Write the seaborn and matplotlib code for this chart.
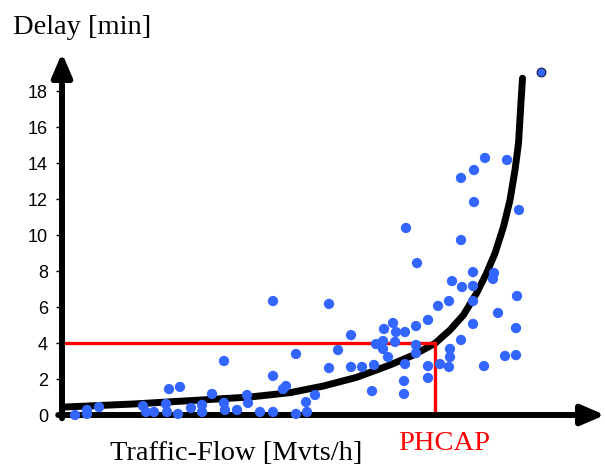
import matplotlib
matplotlib.use("Agg")
import matplotlib.pyplot as plt
import seaborn as sns
import pandas as pd

# ---- data ----
flow = [2.6, 5.0, 5.0, 7.4, 16.2, 16.8, 18.4, 20.8, 21.0, 21.4, 23.2, 23.6, 25.8, 28.0, 28.0,
        30.0, 32.4, 32.4, 32.6, 35.0, 37.0, 37.2, 39.6, 42.2, 42.2, 42.2, 44.2, 44.8, 46.8, 46.8,
        48.8, 49.0, 50.6, 53.4, 53.4, 55.2, 57.8, 57.8, 60.0, 62.0, 62.4, 62.8, 64.2, 64.2, 64.4,
        65.2, 66.2, 66.6, 66.8, 68.4, 68.4, 68.6, 68.6, 68.8, 70.8, 70.8, 70.8, 71.0, 73.2, 73.2,
        73.2, 75.2, 75.6, 77.4, 77.4, 77.6, 77.6, 78.0, 79.8, 79.8, 79.8, 80.0, 82.2, 82.2, 82.2,
        82.2, 82.4, 82.4, 84.4, 84.6, 86.2, 86.4, 87.2, 88.6, 89.0, 90.8, 90.8, 91.0, 91.4]
delay = [0.0, 0.28, 0.06, 0.44, 0.5, 0.17, 0.17, 0.61, 0.17, 1.44, 0.06, 1.56, 0.39, 0.56, 0.17,
         1.17, 3.0, 0.67, 0.28, 0.28, 1.11, 0.67, 0.17, 6.33, 2.17, 0.17, 1.44, 1.61, 3.39, 0.06,
         0.72, 0.17, 1.11, 6.17, 2.61, 3.61, 4.44, 2.67, 2.67, 1.33, 2.78, 3.94, 4.11, 3.67, 4.78,
         3.22, 5.11, 4.06, 4.61, 1.89, 1.17, 4.61, 2.83, 10.39, 4.94, 3.89, 3.44, 8.44, 5.28, 2.72,
         2.06, 6.06, 2.83, 6.33, 2.67, 3.67, 3.22, 7.44, 13.17, 9.72, 4.17, 7.11, 7.94, 7.17, 6.33,
         5.06, 13.61, 11.83, 2.72, 14.28, 7.56, 7.89, 5.67, 3.28, 14.17, 4.83, 3.33, 6.61, 11.39]
outlier_flow = [95.8]
outlier_delay = [19.06]

curve_flow = [0.2, 14.2, 27.6, 37.6, 45.6, 52.3, 58.9, 65.6, 70.3, 74.6, 77.6, 80.3, 82.9,
              84.9, 86.6, 88.3, 89.6, 90.6, 91.3, 91.7, 92.1]
curve_delay = [0.44, 0.61, 0.83, 1.0, 1.24, 1.61, 2.09, 2.78, 3.33, 3.98, 4.72, 5.56, 6.76,
               7.87, 8.98, 10.46, 11.94, 13.61, 15.09, 16.94, 18.71]

phcap_flow = 74.6
phcap_delay = 4
yticks = [0, 2, 4, 6, 8, 10, 12, 14, 16, 18]

# ---- style ----
sns.set_style("white")
plt.rcParams['font.family'] = ['Liberation Sans', 'DejaVu Sans']

W, H = 605, 467
fig = plt.figure(figsize=(W / 100, H / 100), dpi=100)
ax = fig.add_axes([62 / W, (H - 415) / H, (W - 62) / W, (415 - 53) / H])
ax.set_xlim(0, (W - 62) / 5)
ax.set_ylim(0, (415 - 53) / 18)
for s in ax.spines.values():
    s.set_visible(False)

# axes with arrows
arrow_kw = dict(arrowstyle='-|>,head_length=1.4,head_width=0.6', lw=4.3, color='black',
                shrinkA=0, shrinkB=0)
ax.annotate('', xy=(1, 0), xytext=(-0.007, 0), xycoords='axes fraction',
            arrowprops=arrow_kw, zorder=3, annotation_clip=False)
ax.annotate('', xy=(0, 1), xytext=(0, -0.009), xycoords='axes fraction',
            arrowprops=arrow_kw, zorder=3, annotation_clip=False)

# fitted curve
sns.lineplot(x=curve_flow, y=curve_delay, color='black', lw=5.0, sort=False,
             estimator=None, ax=ax, zorder=2, solid_capstyle='round', solid_joinstyle='round')

# PHCAP red guide lines
ax.plot([0, phcap_flow, phcap_flow], [phcap_delay, phcap_delay, 0], color='#ff0000',
        lw=2.4, zorder=2.5, solid_joinstyle='miter')

# points
sns.scatterplot(x=flow, y=delay, color='#3366ff', s=55, edgecolor='none', linewidth=0,
                ax=ax, zorder=5, clip_on=False)
sns.scatterplot(x=outlier_flow, y=outlier_delay, color='#3366ff', s=40, edgecolor='#1a1a40',
                linewidth=0.8, ax=ax, zorder=5, clip_on=False)

ax.set_xticks([])
ax.set_yticks(yticks)
ax.set_yticklabels([str(t) for t in yticks])
ax.tick_params(axis='y', left=True, direction='out', length=4, width=1, color='black',
               labelsize=13, pad=6, labelcolor='black')
ax.set_xlabel('')
ax.set_ylabel('')
if ax.get_legend():
    ax.get_legend().remove()

serif = ['Liberation Serif', 'DejaVu Serif']
fig.text(13 / W, 1 - 33.5 / H, 'Delay [min]', family=serif, size=20.5, ha='left',
         va='baseline', color='black')
fig.text(110 / W, 1 - 460 / H, 'Traffic-Flow [Mvts/h]', family=serif, size=20.5, ha='left',
         va='baseline', color='black')
fig.text(398 / W, 1 - 450 / H, 'PHCAP', family=serif, size=20.5, ha='left',
         va='baseline', color='#ff0000')

fig.savefig('out.png', dpi=100)
